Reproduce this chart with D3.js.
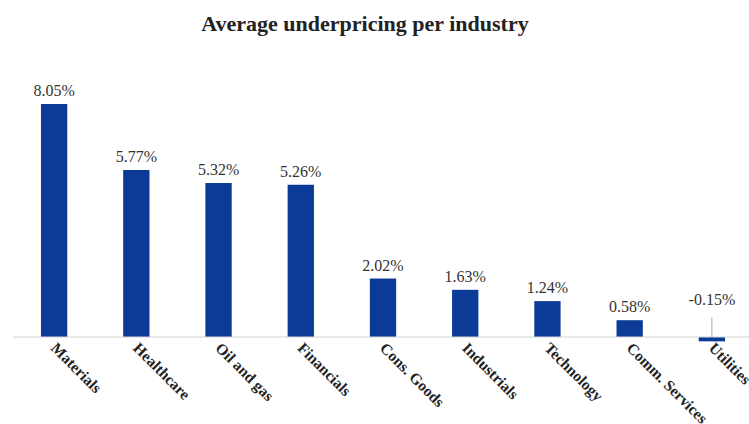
<!DOCTYPE html>
<html>
<head>
<meta charset="utf-8">
<script src="https://cdn.jsdelivr.net/npm/d3@7"></script>
<style>
  html, body { margin: 0; padding: 0; background: #fff; }
  svg { display: block; }
</style>
</head>
<body>
<svg id="chart" width="749" height="424"></svg>
<script>
// Average underpricing by industry (%)
const industries = ["Materials", "Healthcare", "Oil and gas", "Financials", "Cons. Goods",
                    "Industrials", "Technology", "Comm. Services", "Utilities"];
const underpricing = [8.05, 5.77, 5.32, 5.26, 2.02, 1.63, 1.24, 0.58, -0.15];
const valueLabels = ["8.05%", "5.77%", "5.32%", "5.26%", "2.02%", "1.63%", "1.24%", "0.58%", "-0.15%"];

const svg = d3.select("#chart");
const W = 749, H = 424;

const x = d3.scaleBand().domain(industries).range([13, 753]).paddingInner(0.68).paddingOuter(0.34);
const y = d3.scaleLinear().domain([0, 8.05]).range([337, 104]);

const serif = "'Liberation Serif', 'Times New Roman', serif";

// Title
svg.append("text")
  .attr("x", 365).attr("y", 31)
  .attr("text-anchor", "middle")
  .attr("font-family", serif)
  .attr("font-weight", "bold")
  .attr("font-size", 22)
  .attr("fill", "#222")
  .text("Average underpricing per industry");

// Bars
svg.append("g").selectAll("rect")
  .data(industries)
  .join("rect")
  .attr("x", d => x(d))
  .attr("width", x.bandwidth())
  .attr("y", (d, i) => y(Math.max(0, underpricing[i])))
  .attr("height", (d, i) => Math.abs(y(underpricing[i]) - y(0)))
  .attr("fill", "#0b3b96");

// Zero baseline
svg.append("line")
  .attr("x1", 13).attr("x2", W)
  .attr("y1", y(0)).attr("y2", y(0))
  .attr("stroke", "#d4d4d4").attr("stroke-width", 1.2);

// Value labels (negative values sit above the axis with a leader line)
const labelY = (v) => v >= 0 ? y(v) - 8 : y(0) - 32;
svg.append("g").selectAll("text")
  .data(industries)
  .join("text")
  .attr("x", d => x(d) + x.bandwidth() / 2)
  .attr("y", (d, i) => labelY(underpricing[i]))
  .attr("text-anchor", "middle")
  .attr("font-family", serif)
  .attr("font-size", 16)
  .attr("fill", "#333")
  .text((d, i) => valueLabels[i]);

svg.append("g").selectAll("line")
  .data(industries.filter((d, i) => underpricing[i] < 0))
  .join("line")
  .attr("x1", d => x(d) + x.bandwidth() / 2)
  .attr("x2", d => x(d) + x.bandwidth() / 2)
  .attr("y1", y(0) - 20)
  .attr("y2", y(0))
  .attr("stroke", "#aaa").attr("stroke-width", 1);

// Category labels, rotated
svg.append("g").selectAll("text")
  .data(industries)
  .join("text")
  .attr("transform", d => `translate(${x(d) + x.bandwidth() / 2 - 4},${y(0) + 12}) rotate(45)`)
  .attr("text-anchor", "start")
  .attr("font-family", serif)
  .attr("font-weight", "bold")
  .attr("font-size", 15.5)
  .attr("fill", "#222")
  .text(d => d);
</script>
</body>
</html>
